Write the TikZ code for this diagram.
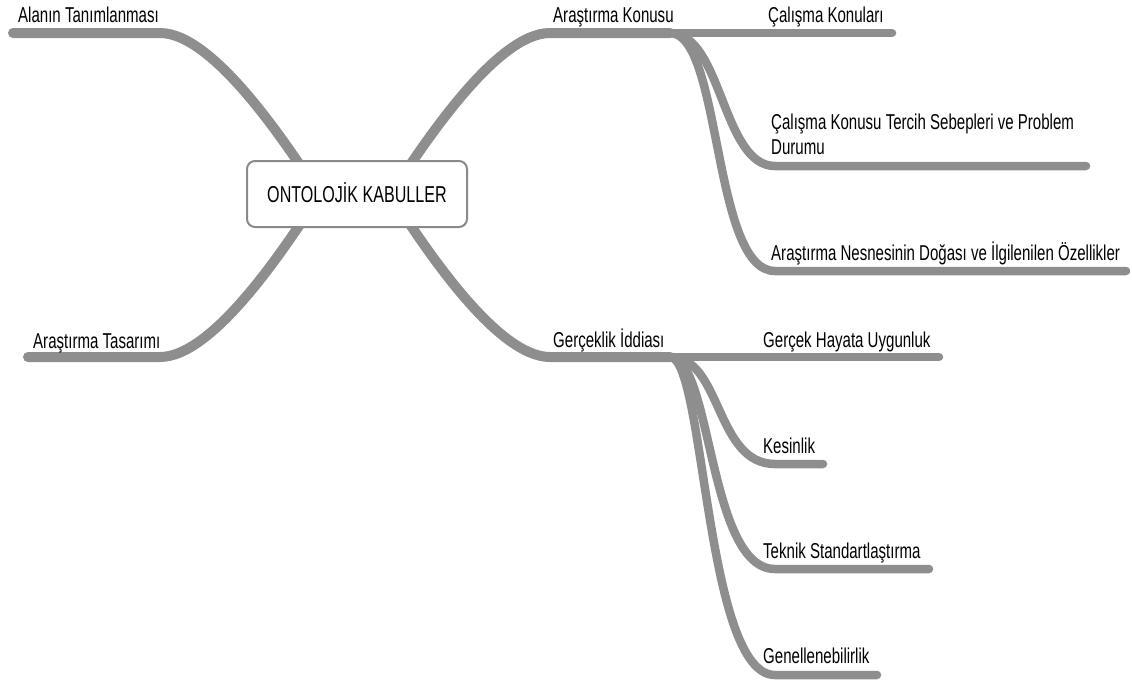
\documentclass[tikz,border=0pt]{standalone}
\usepackage{fontspec}
\setmainfont{Liberation Sans}[FakeStretch=0.70]
\definecolor{branch}{RGB}{142,142,142}
\definecolor{boxline}{RGB}{138,138,138}
\begin{document}
\begin{tikzpicture}[x=1pt,y=-1pt,
  mainline/.style={draw=branch,line width=10pt,line cap=round},
  subline/.style={draw=branch,line width=8.5pt,line cap=round},
  lbl/.style={anchor=base west,inner sep=0pt,font=\fontsize{21.5}{25}\selectfont},
  rootbox/.style={draw=boxline,line width=2pt,fill=white,rounded corners=8pt,
    minimum width=220pt,minimum height=66pt,inner sep=0pt,
    text height=16.5pt,text depth=0pt,font=\fontsize{23}{27}\selectfont}]
\useasboundingbox (0,0) rectangle (1132,683);

% main branch coordinates
\coordinate (tl0) at (320,195);
\coordinate (tl1) at (160,33);
\coordinate (tl2) at (13,33);
\coordinate (bl0) at (320,194);
\coordinate (bl1) at (160,357);
\coordinate (bl2) at (28,357);
\coordinate (tr0) at (390,195);
\coordinate (tr1) at (550,33);
\coordinate (J1) at (670,33);
\coordinate (br0) at (390,194);
\coordinate (br1) at (550,357);
\coordinate (J2) at (670,357);

% sub branch coordinates
\coordinate (a1e) at (892,33);
\coordinate (a2s) at (775,166);
\coordinate (a2e) at (1086,166);
\coordinate (a3s) at (775,271);
\coordinate (a3e) at (1126,271);
\coordinate (g1e) at (939,357);
\coordinate (g2s) at (775,464);
\coordinate (g2e) at (823,464);
\coordinate (g3s) at (775,569);
\coordinate (g3e) at (929,569);
\coordinate (g4s) at (775,675);
\coordinate (g4e) at (877,675);

% main branches
\draw[mainline] (tl0) .. controls (290,150) and (215,33) .. (tl1) -- (tl2);
\draw[mainline] (bl0) .. controls (290,240) and (215,357) .. (bl1) -- (bl2);
\draw[mainline] (tr0) .. controls (420,150) and (495,33) .. (tr1) -- (J1);
\draw[mainline] (br0) .. controls (420,240) and (495,357) .. (br1) -- (J2);

% sub branches
\draw[subline] (J1) -- (a1e);
\draw[subline] (J1) .. controls (722,33) and (722,166) .. (a2s) -- (a2e);
\draw[subline] (J1) .. controls (722,33) and (712,271) .. (a3s) -- (a3e);
\draw[subline] (J2) -- (g1e);
\draw[subline] (J2) .. controls (722,357) and (715,464) .. (g2s) -- (g2e);
\draw[subline] (J2) .. controls (712,357) and (708,569) .. (g3s) -- (g3e);
\draw[subline] (J2) .. controls (705,357) and (705,675) .. (g4s) -- (g4e);

% root
\node[rootbox] (root) at (357,194) {ONTOLOJİK KABULLER};

% labels
\node[lbl] (alan) at (18,22.7) {Alanın Tanımlanması};
\node[lbl] (tasarim) at (33,348) {Araştırma Tasarımı};
\node[lbl] (konu) at (553,22.7) {Araştırma Konusu};
\node[lbl] (iddia) at (553,347) {Gerçeklik İddiası};
\node[lbl] (calkon) at (768,22.7) {Çalışma Konuları};
\node[lbl] (tercih) at (771,129) {\begin{tabular}[t]{@{}l@{}}Çalışma Konusu Tercih Sebepleri ve Problem\\Durumu\end{tabular}};
\node[lbl] (nesne) at (771,260) {Araştırma Nesnesinin Doğası ve İlgilenilen Özellikler};
\node[lbl] (hayat) at (763,347) {Gerçek Hayata Uygunluk};
\node[lbl] (kesin) at (763,453) {Kesinlik};
\node[lbl] (teknik) at (763,558) {Teknik Standartlaştırma};
\node[lbl] (genel) at (763,663) {Genellenebilirlik};
\end{tikzpicture}
\end{document}
